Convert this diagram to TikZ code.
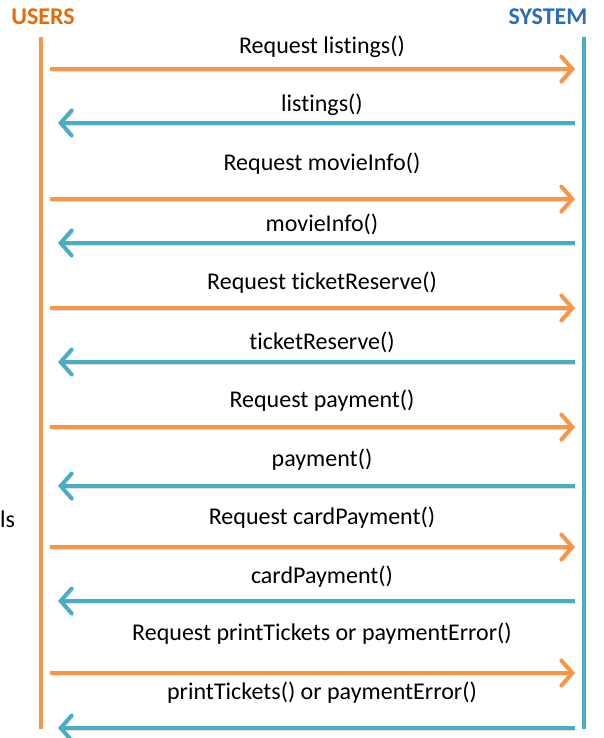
\documentclass[tikz,border=0pt]{standalone}
\usepackage{fontspec}
\setmainfont{Carlito}[Ligatures={NoCommon}]
\usetikzlibrary{arrows.meta}
\definecolor{usr}{HTML}{F79646}
\definecolor{sys}{HTML}{4BACC6}
\definecolor{usrhd}{HTML}{E46C0A}
\definecolor{syshd}{HTML}{2E6DB4}
\tikzset{
  life/.style={line width=4pt},
  msg/.style={line width=4pt,-{Straight Barb[length=11pt,width=25pt,line cap=round]},
    preaction={draw=black,opacity=0.12,transform canvas={shift={(1.5pt,-2.5pt)}}}},
  req/.style={msg,draw=usr},
  rep/.style={msg,draw=sys},
  lbl/.style={font=\fontsize{24}{28}\selectfont,inner sep=0pt},
  hd/.style={font=\bfseries\fontsize{24}{28}\selectfont,inner sep=0pt},
}
\begin{document}
\begin{tikzpicture}[x=1pt,y=-1pt]
\useasboundingbox (0,0) rectangle (603,738);
% lifelines
\node[hd,text=usrhd] (users) at (43,17) {USERS};
\node[hd,text=syshd] (system) at (548,17) {SYSTEM};
\coordinate (utop) at (41,37); \coordinate (ubot) at (41,729);
\coordinate (stop) at (584,37); \coordinate (sbot) at (584,729);
\draw[life,draw=usr] (utop) -- (ubot);
\draw[life,draw=sys] (stop) -- (sbot);
\node[lbl,anchor=west] (cut) at (0,519) {ls};
% requests
\foreach \n/\ya/\yl/\txt in {1/69/47/Request listings(),3/199/164/Request movieInfo(),
  5/308/283/Request ticketReserve(),7/427/401/Request payment(),
  9/547/518/Request cardPayment(),11/673/634/Request printTickets or paymentError()}{
  \coordinate (u\n) at (50,\ya); \coordinate (s\n) at (575,\ya);
  \draw[req] (u\n) -- (s\n);
  \node[lbl] (m\n) at (322,\yl) {\txt};
}
% replies
\foreach \n/\ya/\yl/\txt in {2/123/105/listings(),4/243/224/movieInfo(),
  6/362/342/ticketReserve(),8/486/460/payment(),
  10/601/577/cardPayment(),12/728/693/printTickets() or paymentError()}{
  \coordinate (s\n) at (575,\ya); \coordinate (u\n) at (58,\ya);
  \draw[rep] (s\n) -- (u\n);
  \node[lbl] (m\n) at (322,\yl) {\txt};
}
\end{tikzpicture}
\end{document}
